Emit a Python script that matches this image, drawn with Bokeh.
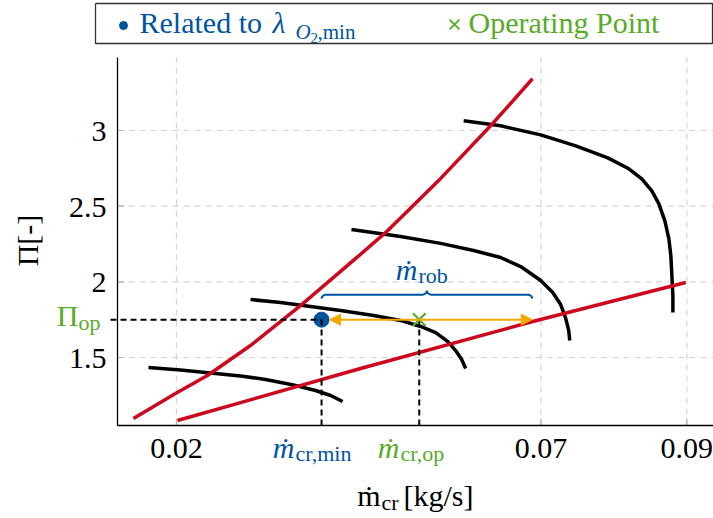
import numpy as np
from bokeh.plotting import figure
from bokeh.models import Range1d, Label, Arrow, NormalHead
from bokeh.embed import file_html
from bokeh.resources import INLINE

# ---- compressor map data -------------------------------------------------
# constant-speed lines (mass flow in kg/s, pressure ratio)
speed1_x = [0.01616, 0.02055, 0.02467, 0.02878, 0.03222, 0.03606, 0.03908, 0.04114, 0.04278]
speed1_y = [1.434, 1.417, 1.398, 1.378, 1.355, 1.318, 1.282, 1.249, 1.209]
speed2_x = [0.03016, 0.03427, 0.03839, 0.04251, 0.04704, 0.05074, 0.05349, 0.05555, 0.05719, 0.05829, 0.05912, 0.05967]
speed2_y = [1.883, 1.864, 1.837, 1.811, 1.778, 1.745, 1.705, 1.665, 1.606, 1.546, 1.487, 1.427]
speed3_x = [0.04400, 0.05074, 0.05623, 0.06076, 0.06446, 0.06721, 0.06996, 0.07161, 0.07270, 0.07339, 0.07380, 0.07394]
speed3_y = [2.346, 2.300, 2.254, 2.207, 2.161, 2.101, 2.009, 1.930, 1.850, 1.758, 1.679, 1.612]
speed4_x = [0.05939, 0.06447, 0.06996, 0.07477, 0.07916, 0.08205, 0.08383, 0.08520, 0.08617,
            0.08699, 0.08754, 0.08781, 0.08795, 0.08809, 0.08809]
speed4_y = [3.064, 3.031, 2.971, 2.899, 2.819, 2.747, 2.680, 2.601, 2.515,
            2.403, 2.284, 2.172, 2.042, 1.910, 1.797]

# map boundaries
surge_x = [0.01410, 0.01986, 0.02425, 0.03015, 0.03701, 0.04455, 0.04867, 0.05621, 0.06335, 0.06883]
surge_y = [1.097, 1.262, 1.381, 1.579, 1.843, 2.153, 2.325, 2.682, 3.045, 3.342]
limit_x = [0.02014, 0.04525, 0.06886, 0.08986]
limit_y = [1.0836, 1.4273, 1.7379, 1.9957]

# characteristic points
m_cr_min = 0.0399      # mass flow related to lambda_O2,min
m_cr_op = 0.0533       # operating point mass flow
m_cr_rob_end = 0.0688  # end of robust mass flow range
pi_op = 1.75           # operating pressure ratio

x_ticks = [0.02, 0.07, 0.09]
x_tick_labels = ["0.02", "0.07", "0.09"]
y_ticks = [1.5, 2.0, 2.5, 3.0]
y_tick_labels = ["1.5", "2", "2.5", "3"]

# ---- styling ---------------------------------------------------------------
BLUE = "#00549F"
GREEN = "#57AB27"
RED = "#CC071E"
ORANGE = "#F6A800"
FONT = "Liberation Serif"
BASE = 0.32   # alphabetic baseline correction, fraction of font size

W, H = 713, 518
# axis box in data units and its place on the canvas (pixels)
X_LO, X_HI = 0.01191, 0.09366
Y_LO, Y_HI = 1.0506, 3.4825
FL, FT, FW, FH = 117, 57, 596, 368
KX = (X_HI - X_LO) / FW   # data units per pixel
KY = (Y_HI - Y_LO) / FH


def sx(px):
    """canvas pixel column -> data x"""
    return X_LO + (px - FL) * KX


def sy(py):
    """canvas pixel row -> data y"""
    return Y_HI - (py - FT) * KY


p = figure(width=W, height=H, x_range=Range1d(sx(0), sx(W)), y_range=Range1d(sy(H), sy(0)),
           output_backend="svg", toolbar_location=None,
           x_axis_location=None, y_axis_location=None,
           min_border_left=0, min_border_right=0, min_border_top=0, min_border_bottom=0)
p.outline_line_color = None
p.xgrid.visible = False
p.ygrid.visible = False
p.background_fill_color = "white"

# grid
p.segment(x0=x_ticks, y0=[Y_LO] * len(x_ticks), x1=x_ticks, y1=[Y_HI] * len(x_ticks),
          line_color="#d4d4d4", line_width=1.2, line_dash="6 5")
p.segment(x0=[X_LO] * len(y_ticks), y0=y_ticks, x1=[X_HI] * len(y_ticks), y1=y_ticks,
          line_color="#d4d4d4", line_width=1.2, line_dash="6 5")

# tick marks (inward)
p.segment(x0=x_ticks, y0=[Y_LO] * len(x_ticks), x1=x_ticks, y1=[Y_LO + 7 * KY] * len(x_ticks),
          line_color="#b5b5b5", line_width=1.2)
p.segment(x0=[X_LO] * len(y_ticks), y0=y_ticks, x1=[X_LO + 7 * KX] * len(y_ticks), y1=y_ticks,
          line_color="#b5b5b5", line_width=1.2)

# tick labels
p.text(x=x_ticks, y=[Y_LO - (33 - BASE * 30) * KY] * len(x_ticks), text=x_tick_labels,
       text_font=FONT, text_font_size="30px", text_align="center",
       text_baseline="alphabetic", text_color="black")
p.text(x=[X_LO - 11 * KX] * len(y_ticks), y=[t - (10.5 - BASE * 30) * KY for t in y_ticks],
       text=y_tick_labels, text_font=FONT, text_font_size="30px", text_align="right",
       text_baseline="alphabetic", text_color="black")

# speed lines
for xs, ys in ((speed1_x, speed1_y), (speed2_x, speed2_y),
               (speed3_x, speed3_y), (speed4_x, speed4_y)):
    p.line(xs, ys, line_color="black", line_width=3.5, line_join="round")

# surge and limit lines
p.line(surge_x, surge_y, line_color=RED, line_width=3.5, line_join="round")
p.line(limit_x, limit_y, line_color=RED, line_width=3.5, line_join="round")


# robust range brace
def brace(xa, xb, yb, d, r, n=14):
    xm = 0.5 * (xa + xb)
    t = np.linspace(0, np.pi / 2, n)
    lx1 = xa + r * (1 - np.cos(t)); ly1 = yb - d + d * np.sin(t)
    lx2 = xm - r + r * np.sin(t); ly2 = yb + d * (1 - np.cos(t))
    rx2 = (2 * xm - lx2)[::-1]; ry2 = ly2[::-1]
    rx1 = (xa + xb - lx1)[::-1]; ry1 = ly1[::-1]
    return (np.concatenate([lx1, lx2, rx2, rx1]),
            np.concatenate([ly1, ly2, ry2, ry1]))


bx, by = brace(m_cr_min, m_cr_rob_end, pi_op + 25 * KY, 4 * KY, 5 * KX)
p.line(bx, by, line_color=BLUE, line_width=2)

# point related to lambda_O2,min
p.scatter([m_cr_min], [pi_op], size=15, marker="circle", fill_color=BLUE, line_color=BLUE)

# guide lines
p.segment(x0=[m_cr_min, m_cr_op], y0=[Y_LO, Y_LO], x1=[m_cr_min, m_cr_op], y1=[pi_op, pi_op],
          line_color="black", line_width=2, line_dash="6 4")
p.segment(x0=[sx(110)], y0=[pi_op], x1=[m_cr_min], y1=[pi_op],
          line_color="black", line_width=2, line_dash="6 4")

# robust range arrow
p.add_layout(Arrow(start=NormalHead(size=11, fill_color=ORANGE, line_color=ORANGE),
                   end=NormalHead(size=11, fill_color=ORANGE, line_color=ORANGE),
                   x_start=m_cr_min + 8 * KX, y_start=pi_op,
                   x_end=m_cr_rob_end, y_end=pi_op,
                   line_color=ORANGE, line_width=2))

# operating point
p.scatter([m_cr_op], [pi_op], size=18, marker="x", line_color=GREEN, line_width=2.2)

# axes
p.segment(x0=[X_LO], y0=[Y_LO], x1=[X_LO], y1=[Y_HI], line_color="black", line_width=1.3)
p.segment(x0=[X_LO], y0=[Y_LO], x1=[X_HI], y1=[Y_LO], line_color="black", line_width=1.3)


def text(px, py, s, size=30, color="black", align="left", style="normal", angle=0.0):
    # place the alphabetic baseline at canvas pixel (px, py)
    d = BASE * size
    qx = px - d * np.sin(angle)
    qy = py - d * np.cos(angle)
    p.add_layout(Label(x=sx(qx), y=sy(qy), text=s, text_font=FONT,
                       text_font_size=f"{size}px", text_color=color,
                       text_align=align, text_baseline="alphabetic",
                       text_font_style=style, angle=angle))


# annotations on the map
text(78, 325, "\u03a0", color=GREEN, align="right")
text(78, 329, "op", size=22, color=GREEN)

text(417, 279, "\u1e41", color=BLUE, align="right", style="italic")
text(418, 282, "rob", size=22, color=BLUE)

text(294, 457, "\u1e41", color=BLUE, align="right", style="italic")
text(295, 460, "cr,min", size=22, color=BLUE)
text(399, 457, "\u1e41", color=GREEN, align="right", style="italic")
text(400, 460, "cr,op", size=22, color=GREEN)

# axis titles
text(380, 505, "\u1e41", align="right")
text(381, 509, "cr", size=22)
text(403, 505, "[kg/s]")
text(37, 240, "\u03a0[-]", align="center", angle=np.pi / 2)

# legend
p.line([sx(95), sx(712), sx(712), sx(95), sx(95)], [sy(3), sy(3), sy(43), sy(43), sy(3)],
       line_color="#333333", line_width=1.3)
p.scatter([sx(123)], [sy(25)], size=8, marker="circle", fill_color=BLUE, line_color=BLUE)
text(139, 32, "Related to ", color=BLUE)
text(272, 32, "\u03bb", color=BLUE, style="italic")
text(295, 38, "O", size=21, color=BLUE, style="italic")
text(310, 42, "2", size=15, color=BLUE)
text(317, 38, ",min", size=21, color=BLUE)
p.scatter([sx(454)], [sy(24)], size=14, marker="x", line_color=GREEN, line_width=1.8)
text(468, 32, "Operating Point", color=GREEN)

open("out.html", "w").write(file_html(p, INLINE))
